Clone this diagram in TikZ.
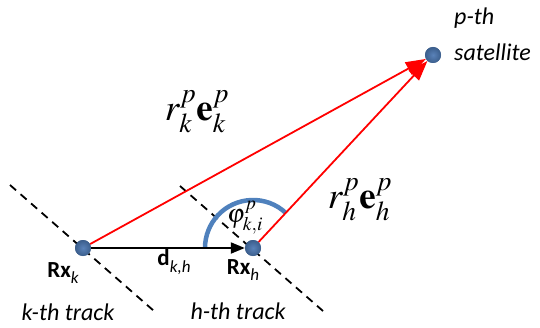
\documentclass[tikz,border=0pt]{standalone}
\usepackage{mathptmx}
\usepackage[no-math]{fontspec}
\setmainfont{Carlito}
\usetikzlibrary{arrows.meta}
\definecolor{dotblue}{RGB}{59,94,140}
\definecolor{dotlight}{RGB}{90,130,185}
\definecolor{arcblue}{RGB}{79,129,189}
\begin{document}
\begin{tikzpicture}[x=1pt,y=1pt,
 dot/.style={circle,inner color=dotlight,outer color=dotblue,minimum size=16pt,inner sep=0pt},
 track/.style={dash pattern=on 8pt off 6pt,line width=1.8pt},
 ray/.style={red,line width=1.8pt,-{Triangle[length=20pt,width=14pt]}},
 lbl/.style={font=\fontsize{23}{27}\selectfont,inner sep=0pt},
 itl/.style={font=\fontsize{24}{28}\selectfont\itshape,inner sep=0pt},
 mth/.style={font=\fontsize{37}{42}\selectfont,inner sep=0pt}
]
\useasboundingbox (0,0) rectangle (540,327);
% positions
\coordinate (ka) at (10,142);
\coordinate (kb) at (154,16);
\coordinate (ha) at (180,141);
\coordinate (hb) at (323,16);
\node[dot] (rxk) at (83,79) {};
\node[dot] (rxh) at (253,79) {};
\node[dot] (sat) at (433,272) {};
% tracks
\draw[track] (ka) -- (kb);
\draw[track] (ha) -- (hb);
% angle arc
\draw[arcblue,line width=4.5pt] ([shift={(47:48)}]rxh.center) arc[start angle=47,end angle=180,radius=48];
% rays
\draw[ray] (rxk) -- (sat);
\draw[ray] (rxh) -- (sat);
\draw[line width=2pt,-{Triangle[length=14pt,width=11pt]}] (rxk) -- (rxh);
% redraw dots on top
\node[dot] at (rxk) {};
\node[dot] at (rxh) {};
\node[dot] at (sat) {};
% labels
\node[mth] (lk) at (197,215) {$r_k^p\mathbf{e}_k^p$};
\node[mth] (lh) at (360,127) {$r_h^p\mathbf{e}_h^p$};
\node[font=\fontsize{26}{30}\selectfont,inner sep=0pt] (phi) at (245,109) {$\varphi^p_{k,i}$};
\node[lbl] (d) at (174,65) {\textbf{d}\raisebox{-0.3em}{\fontsize{17}{17}\selectfont\itshape k,h}};
\node[lbl] (lrxk) at (63,54) {\textbf{Rx}\raisebox{-0.3em}{\fontsize{17}{17}\selectfont\itshape k}};
\node[lbl] (lrxh) at (243,57) {\textbf{Rx}\raisebox{-0.3em}{\fontsize{17}{17}\selectfont\itshape h}};
\node[itl] (tk) at (68,15) {k-th track};
\node[itl] (th) at (238,16) {h-th track};
\node[itl,anchor=west] (pth) at (454,309) {p-th};
\node[itl,anchor=west] (satl) at (454,275) {satellite};
\end{tikzpicture}
\end{document}
